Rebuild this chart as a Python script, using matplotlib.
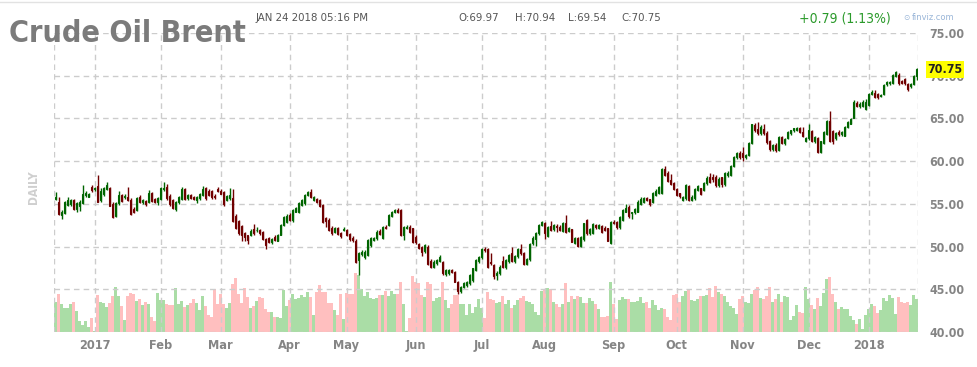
import matplotlib
matplotlib.use("Agg")
import matplotlib.pyplot as plt
import matplotlib.transforms as mtransforms
from matplotlib import font_manager
from matplotlib.lines import Line2D
import numpy as np

# ---- data: Brent daily candles, Dec 13 2016 .. Jan 24 2018 ----
opens = [
    # Dec 2016
    55.6, 55.25, 53.7, 53.9, 54.9, 55.0, 55.5, 54.4, 54.7, 55.1, 56.0, 55.85, 57.0,
    # Jan 2017
    56.75, 57.1, 55.45, 56.1, 56.75, 56.8, 55.0, 53.6, 55.05, 56.0, 55.8, 55.8,
    55.5, 54.4, 54.3, 55.8, 55.25, 55.3, 55.25, 56.25, 55.6, 55.25,
    # Feb
    55.55, 56.7, 56.95, 55.95, 55.45, 54.4, 55.2, 55.6, 56.75, 55.65,
    56.0, 55.8, 55.5, 55.65, 56.05, 56.8, 56.5, 56.5, 55.9, 56.7,
    # Mar
    56.5, 56.4, 55.5, 55.65, 55.7, 53.6, 53.0, 52.35, 51.55, 51.35, 51.35, 52.1,
    51.9, 51.9, 51.7, 50.9, 50.95, 50.5, 51.15, 50.7, 51.36, 52.5, 52.9,
    # Apr
    53.7, 53.1, 54.1, 54.1, 54.87, 55.06, 56.04, 56.43, 55.45, 55.57,
    55.45, 54.87, 53.31, 53.11, 52.22, 51.75, 52.14, 51.55, 51.94,
    # May
    51.94, 51.44, 51.05, 50.66, 48.43, 49.1, 48.82, 49.02, 50.19, 50.77, 50.97, 51.83,
    51.05, 52.33, 52.53, 53.62, 54.09, 54.28, 54.28, 51.36, 52.14, 52.33, 52.14,
    # Jun
    51.16, 50.27, 50.0, 49.49, 50.0, 48.31, 47.65, 48.04, 48.31, 48.16, 46.75,
    46.87, 47.26, 46.99, 45.9, 44.8, 45.31, 45.5, 45.7, 46.09, 47.26, 48.31,
    # Jul
    48.83, 49.72, 49.7, 48.2, 47.85, 46.7, 46.87, 48.3, 47.6, 48.3, 49.2,
    48.3, 48.9, 49.7, 49.3, 48.0, 48.5, 50.4, 50.85, 51.55, 52.55,
    # Aug
    52.73, 51.25, 52.4, 52.0, 52.4, 52.34, 51.87, 52.8, 51.87, 52.0, 50.46, 50.97,
    50.1, 50.85, 53.1, 51.55, 51.63, 52.53, 52.14, 52.4, 52.14, 52.14, 50.38,
    # Sep
    52.92, 52.92, 52.26, 53.1, 54.1, 54.6, 53.9, 54.0, 54.1, 55.0, 55.26,
    55.65, 55.53, 55.26, 56.04, 56.31, 56.31, 59.05, 58.66, 57.8, 57.41,
    # Oct
    56.7, 56.24, 55.45, 55.65, 57.1, 55.45, 55.65, 56.6, 56.8, 56.6, 57.4,
    58.1, 58.2, 58.2, 57.2, 58.1, 57.3, 58.4, 58.4, 59.4, 60.5, 60.9,
    # Nov
    61.0, 60.5, 60.7, 62.1, 64.2, 63.8, 63.3, 63.8, 63.3, 62.3, 61.4,
    61.9, 61.3, 62.8, 62.1, 62.7, 63.3, 63.6, 63.7, 63.85, 63.45, 62.4,
    # Dec
    62.7, 63.55, 62.3, 62.7, 61.1, 62.1, 63.2, 64.7, 63.5, 62.7,
    63.45, 63.2, 63.0, 64.0, 64.4, 65.1, 66.84, 66.4, 66.4, 66.1,
    # Jan 2018
    66.6, 67.9, 68.0, 67.9, 67.6, 67.9, 69.0, 69.1, 69.1, 70.0,
    70.1, 69.4, 69.6, 69.0, 68.8, 69.0, 69.97,
]
highs = [
    56.4, 55.8, 54.3, 55.3, 55.8, 55.6, 55.6, 55.2, 55.4, 57.2, 56.5, 56.3, 57.2,
    57.0, 58.4, 56.8, 57.0, 57.6, 57.0, 55.2, 55.2, 56.5, 56.2, 56.1, 57.0,
    55.7, 54.6, 55.8, 56.0, 55.6, 55.5, 56.6, 56.4, 55.7, 55.8,
    57.0, 57.6, 57.3, 56.1, 55.6, 55.3, 55.9, 56.95, 56.9, 56.2,
    56.2, 55.9, 55.9, 56.3, 57.1, 57.0, 56.7, 56.6, 56.1, 57.0,
    56.7, 56.5, 56.0, 56.8, 56.7, 53.8, 53.1, 52.5, 51.7, 51.2, 52.0, 52.7,
    52.3, 52.0, 51.8, 51.0, 51.1, 51.0, 51.3, 51.5, 52.6, 53.6, 53.8,
    53.9, 54.4, 54.6, 55.2, 55.6, 56.1, 56.5, 56.74, 55.95, 55.7,
    55.6, 55.0, 53.5, 53.3, 52.4, 52.3, 52.3, 51.7, 52.3,
    52.1, 51.6, 51.2, 50.9, 49.4, 49.6, 49.6, 50.9, 51.1, 51.1, 51.9, 52.0,
    52.4, 52.5, 53.8, 54.2, 54.4, 54.5, 54.4, 52.4, 52.5, 52.5, 52.2,
    51.3, 50.4, 50.1, 50.3, 50.2, 48.5, 48.4, 48.6, 49.0, 48.3, 47.4,
    47.4, 47.4, 47.1, 46.0, 45.4, 45.8, 46.0, 46.8, 47.5, 48.5, 48.9,
    49.8, 49.9, 49.8, 49.2, 48.0, 47.1, 47.8, 48.9, 48.5, 49.1, 49.9,
    49.0, 49.8, 50.3, 49.4, 48.7, 50.4, 51.2, 51.7, 52.6, 53.0,
    52.9, 52.4, 53.0, 52.6, 52.6, 52.5, 52.9, 53.7, 52.3, 52.1, 51.1, 51.1,
    51.2, 52.8, 53.2, 52.2, 52.8, 52.7, 52.7, 52.5, 52.4, 52.2, 53.0,
    53.1, 53.0, 53.6, 54.4, 55.0, 54.9, 54.1, 54.5, 55.4, 55.8, 55.8,
    55.8, 55.6, 56.4, 56.7, 57.1, 59.2, 59.45, 58.9, 58.5, 57.6,
    56.8, 56.3, 55.9, 57.3, 57.2, 56.0, 56.8, 57.2, 56.9, 57.6, 58.3,
    58.6, 58.5, 58.4, 58.2, 58.2, 58.7, 58.8, 59.5, 60.6, 61.1, 61.2,
    61.6, 60.8, 62.2, 64.4, 64.5, 64.55, 64.2, 64.4, 63.5, 62.5, 62.0,
    62.1, 62.9, 63.0, 62.7, 63.5, 63.7, 63.9, 64.0, 63.95, 64.0, 62.8,
    64.3, 63.7, 63.0, 62.8, 62.4, 63.5, 64.8, 65.9, 63.7, 63.4,
    63.6, 63.5, 64.1, 64.7, 65.0, 67.1, 67.0, 66.9, 67.1, 67.3,
    68.0, 68.3, 68.3, 68.0, 67.9, 69.0, 69.4, 69.4, 70.2, 70.5,
    70.3, 69.5, 69.7, 69.1, 69.1, 70.1, 70.94,
]
lows = [
    55.4, 53.7, 53.2, 53.8, 54.8, 54.8, 54.3, 54.1, 54.15, 55.0, 55.8, 55.8, 56.4,
    56.5, 55.2, 55.2, 55.9, 56.6, 54.7, 53.4, 53.5, 54.9, 55.2, 55.6, 55.3,
    53.7, 53.9, 54.2, 55.1, 55.0, 54.8, 55.1, 55.2, 55.1, 54.9,
    55.4, 56.5, 55.5, 54.8, 54.4, 54.2, 55.0, 55.5, 55.4, 55.5,
    55.6, 55.4, 55.1, 55.5, 55.9, 55.5, 55.9, 55.6, 55.6, 56.4,
    56.1, 54.8, 55.3, 55.5, 52.9, 52.0, 51.4, 50.6, 50.6, 50.3, 51.2, 51.4,
    51.7, 51.4, 50.8, 49.7, 50.4, 50.3, 50.7, 50.6, 51.3, 52.4, 52.8,
    53.0, 52.9, 54.0, 53.9, 54.7, 54.9, 55.9, 55.7, 55.3, 55.1,
    54.6, 52.8, 52.3, 51.8, 51.4, 51.6, 51.3, 51.0, 51.8,
    51.2, 50.7, 50.5, 48.1, 46.67, 48.9, 48.6, 48.9, 50.0, 50.6, 50.8, 51.3,
    50.9, 52.0, 52.4, 53.5, 53.9, 53.9, 51.2, 50.8, 52.0, 51.6, 50.4,
    50.3, 49.7, 48.9, 49.3, 47.8, 47.5, 47.5, 47.9, 48.2, 46.7, 46.6,
    46.7, 46.9, 45.8, 44.41, 44.6, 45.1, 45.3, 45.5, 45.9, 47.1, 48.1,
    48.6, 49.4, 47.5, 47.9, 46.2, 46.1, 46.7, 47.5, 47.4, 48.1, 48.2,
    48.1, 48.7, 49.0, 47.8, 47.8, 48.3, 50.2, 50.1, 51.3, 52.4,
    50.85, 51.1, 51.8, 51.8, 51.7, 51.8, 51.7, 51.6, 51.7, 50.5, 50.3, 50.0,
    49.9, 50.7, 51.4, 51.4, 51.5, 52.1, 52.0, 51.6, 51.8, 50.6, 50.3,
    52.6, 52.1, 52.1, 53.0, 54.0, 53.4, 53.2, 53.8, 54.0, 54.9, 55.1,
    55.3, 54.8, 55.1, 55.9, 56.2, 56.2, 58.3, 57.6, 57.2, 56.6,
    55.9, 55.7, 55.3, 55.5, 55.3, 55.3, 55.5, 56.5, 56.0, 56.5, 57.2,
    57.4, 57.6, 57.0, 57.0, 57.0, 57.1, 58.2, 58.3, 59.3, 60.3, 60.3,
    60.0, 60.3, 60.6, 62.0, 63.4, 63.1, 63.1, 63.1, 62.0, 61.2, 61.2,
    61.1, 61.2, 62.0, 61.9, 62.6, 63.1, 63.4, 63.5, 63.3, 62.8, 62.2,
    62.5, 62.2, 62.1, 61.0, 61.0, 62.0, 63.1, 62.2, 62.0, 62.5,
    63.0, 63.0, 62.9, 63.9, 64.3, 65.0, 66.3, 66.2, 66.3, 66.0,
    66.5, 67.7, 67.4, 67.3, 67.5, 67.8, 68.8, 68.9, 69.0, 69.8,
    68.9, 69.0, 68.9, 68.2, 68.6, 68.9, 69.54,
]
closes = [
    55.75, 53.8, 54.0, 55.2, 55.45, 55.5, 54.4, 55.05, 55.25, 56.1, 56.25, 56.2, 56.6,
    56.8, 55.25, 56.5, 56.9, 57.2, 54.8, 53.5, 55.05, 56.0, 55.35, 55.95, 55.4,
    53.8, 54.0, 55.65, 55.25, 55.5, 54.95, 56.25, 55.35, 55.25, 55.65,
    56.8, 56.9, 55.65, 54.95, 54.55, 55.2, 55.75, 56.75, 55.6, 56.05,
    55.7, 55.6, 55.8, 56.1, 56.75, 55.65, 56.05, 55.75, 55.75, 56.5,
    56.2, 54.95, 55.9, 56.05, 53.0, 52.15, 51.55, 51.3, 51.15, 50.8, 51.8, 51.55,
    51.95, 51.55, 50.9, 50.2, 50.5, 50.9, 50.8, 51.36, 52.53, 53.5, 53.62,
    53.1, 54.28, 54.48, 55.06, 55.45, 56.04, 56.35, 55.84, 55.84, 55.26,
    54.79, 52.92, 53.0, 51.94, 51.55, 52.14, 51.44, 51.28, 52.06,
    51.36, 50.89, 50.73, 48.24, 49.21, 49.41, 49.41, 50.77, 50.97, 50.97, 51.75, 51.44,
    52.33, 52.14, 53.7, 54.09, 54.28, 54.09, 51.36, 52.33, 52.33, 51.75, 50.58,
    50.5, 49.88, 49.41, 50.19, 47.92, 47.65, 48.24, 48.43, 48.82, 46.87, 47.26,
    47.26, 47.06, 45.9, 44.8, 45.31, 45.7, 45.9, 46.67, 47.45, 48.43, 48.82,
    49.68, 49.6, 47.65, 48.05, 46.56, 46.95, 47.65, 47.65, 48.43, 49.0, 48.3,
    48.9, 49.7, 49.2, 47.97, 48.6, 50.3, 50.97, 51.55, 52.53, 52.9,
    51.63, 52.34, 51.95, 52.5, 52.25, 51.95, 52.8, 51.75, 52.14, 50.58, 50.97, 50.1,
    51.09, 52.73, 51.55, 52.03, 52.65, 52.26, 52.53, 51.75, 51.95, 50.7, 52.92,
    52.73, 52.26, 53.5, 54.3, 54.48, 53.58, 54.0, 54.37, 55.26, 55.53, 55.65,
    55.45, 54.99, 56.31, 56.55, 56.94, 59.05, 58.38, 57.72, 57.33, 56.7,
    56.04, 55.93, 55.8, 57.2, 55.5, 55.85, 56.7, 57.1, 56.16, 57.4, 58.0,
    57.6, 57.9, 57.2, 57.9, 57.3, 58.6, 58.6, 59.4, 60.5, 60.9, 60.45,
    60.45, 60.7, 62.1, 64.35, 63.6, 63.3, 63.95, 63.3, 62.2, 61.4, 61.9,
    61.3, 62.8, 62.1, 62.6, 63.4, 63.65, 63.85, 63.9, 63.45, 62.95, 62.7,
    63.6, 62.3, 62.85, 61.1, 62.3, 63.45, 64.7, 62.3, 62.3, 63.3,
    63.2, 63.4, 64.0, 64.6, 64.9, 66.96, 66.4, 66.7, 66.96, 66.96,
    67.9, 68.1, 67.55, 67.5, 67.8, 68.9, 69.3, 69.3, 70.1, 70.4,
    69.1, 69.2, 69.2, 68.5, 69.0, 70.0, 70.75,
]
volumes = [
    30, 38, 28, 24, 24, 28, 30, 21, 11, 7, 11, 5, 14,
    1, 37, 30, 29, 25, 29, 36, 45, 36, 26, 12, 36, 39, 38, 31, 33, 27, 30, 28, 15, 11, 39,
    32, 32, 28, 27, 27, 44, 28, 31, 25, 27, 29, 33, 29, 22, 36, 26, 17, 15, 43, 28,
    38, 28, 24, 29, 48, 54, 38, 29, 44, 35, 24, 26, 31, 35, 34, 23, 20, 20, 15, 15, 14, 42, 26,
    32, 38, 33, 34, 37, 35, 40, 35, 17, 40, 47, 40, 40, 29, 29, 22, 17, 38, 13,
    39, 38, 38, 59, 57, 43, 36, 40, 34, 33, 34, 37, 37, 41, 36, 41, 38, 38, 50, 28, 1, 14, 56,
    50, 49, 37, 35, 50, 48, 31, 34, 35, 50, 32, 24, 28, 37, 37, 28, 28, 17, 28, 19, 25, 33,
    24, 14, 40, 33, 32, 29, 30, 36, 28, 32, 24, 27, 32, 34, 36, 31, 30, 28, 20, 17, 41,
    42, 44, 43, 30, 28, 25, 28, 49, 30, 36, 33, 36, 35, 29, 29, 34, 31, 28, 23, 15, 15, 16, 50,
    28, 13, 32, 35, 33, 33, 30, 30, 31, 35, 29, 30, 24, 32, 27, 22, 24, 23, 15, 12, 37,
    38, 30, 36, 41, 43, 32, 31, 33, 36, 36, 37, 44, 35, 46, 40, 38, 36, 30, 26, 24, 18, 33,
    36, 30, 29, 38, 42, 45, 34, 33, 36, 45, 30, 33, 38, 30, 36, 35, 12, 16, 27, 20, 19, 45,
    33, 27, 23, 34, 26, 39, 53, 55, 38, 30, 23, 25, 23, 23, 16, 12, 8, 13, 3, 17,
    23, 28, 26, 19, 22, 34, 31, 37, 34, 18, 35, 30, 29, 30, 27, 37, 33,
]

month_idx = [13, 35, 55, 78, 97, 120, 142, 163, 186, 207, 229, 251, 271]
month_lbl = ['2017', 'Feb', 'Mar', 'Apr', 'May', 'Jun', 'Jul', 'Aug',
             'Sep', 'Oct', 'Nov', 'Dec', '2018']
price_ticks = [40, 45, 50, 55, 60, 65, 70, 75]
last_price = 70.75

n = len(closes)

# fonts: prefer a narrow face (finviz uses Arial Narrow), else shrink Liberation Sans
fonts = font_manager.fontManager.ttflist
names = {f.name for f in fonts}
condensed = [f for f in fonts if f.name == 'DejaVu Sans' and 'condensed' in str(f.stretch)]
if 'Liberation Sans Narrow' in names:
    fam, stretch, sc = 'Liberation Sans Narrow', 'normal', 1.0
elif condensed:
    fam, stretch, sc = 'DejaVu Sans', 'condensed', 0.95
else:
    fam, stretch, sc = 'Liberation Sans', 'normal', 0.86
plt.rcParams['font.family'] = [fam, 'DejaVu Sans']
plt.rcParams['font.stretch'] = stretch

W, H = 977, 367
fig = plt.figure(figsize=(W / 100, H / 100), dpi=100)
fig.patch.set_facecolor('white')

L, R, T, B = 54, 918, 33, 332
ax = fig.add_axes([L / W, 1 - B / H, (R - L) / W, (B - T) / H])
axv = ax.twinx()

x = np.arange(n)
o = np.array(opens)
c = np.array(closes)
up = c >= o

# volume bars (behind)
vcol = np.where(up, '#aadda6', '#ffbfbf')
axv.bar(x, volumes, width=1.0, color=vcol, linewidth=0)
axv.set_ylim(0, B - T)
axv.axis('off')

ax.set_zorder(axv.get_zorder() + 1)
ax.patch.set_visible(False)

# grid
grid_kw = dict(color='#cccccc', lw=1.0, linestyle=(0, (4, 3)), zorder=0.5)
for p in price_ticks:
    ax.axhline(p, **grid_kw)
for m in month_idx:
    ax.axvline(m, **grid_kw)
ax.axvline(-0.5, **grid_kw)
ax.axvline(n - 0.5, **grid_kw)

# candles
edge = np.where(up, '#006400', '#700000')
fill = np.where(up, '#00d000', '#d80000')
ax.vlines(x, lows, highs, colors=edge, lw=1.0, zorder=2)
body = np.where(np.abs(c - o) < 0.05, 0.05, c - o)
ax.bar(x, body, bottom=o, width=0.66, color=fill, edgecolor=edge, linewidth=0.8, zorder=3)

ax.set_xlim(-0.5, n - 0.5)
ax.set_ylim(40, 75)
for s in ax.spines.values():
    s.set_visible(False)

ax.yaxis.tick_right()
ax.set_yticks(price_ticks)
ax.set_yticklabels(['%.2f' % p for p in price_ticks])
ax.tick_params(axis='y', length=0, pad=8, labelsize=9.4 * sc, labelcolor='#858585')
ax.set_xticks(month_idx)
ax.set_xticklabels(month_lbl)
ax.tick_params(axis='x', length=0, pad=5, labelsize=9.6 * sc, labelcolor='#858585')
for t in ax.get_xticklabels() + ax.get_yticklabels():
    t.set_fontweight('bold')

# last price tag (sits over the 70.00 label, as on finviz)
trans = mtransforms.blended_transform_factory(ax.transAxes, ax.transData)
ax.text(1.011, last_price, '%.2f' % last_price, transform=trans, ha='left', va='center',
        fontsize=9.4 * sc, fontweight='bold', color='#222222', zorder=10,
        bbox=dict(boxstyle='square,pad=0.15', facecolor='#ffff00', edgecolor='none'))

# header
def ft(px, py, s, **kw):
    fig.text(px / W, 1 - py / H, s, **kw)

ft(9, 42, 'Crude Oil Brent', fontsize=23 * sc, fontweight='bold', color='#7b7b7b',
   va='baseline')
ft(256, 18, 'JAN 24 2018 05:16 PM', fontsize=8.6 * sc, color='#555555', va='center')
ft(458, 18, 'O:69.97', fontsize=8.6 * sc, color='#555555', va='center')
ft(515, 18, 'H:70.94', fontsize=8.6 * sc, color='#555555', va='center')
ft(568, 18, 'L:69.54', fontsize=8.6 * sc, color='#555555', va='center')
ft(621, 18, 'C:70.75', fontsize=8.6 * sc, color='#555555', va='center')
ft(799, 19, '+0.79 (1.13%)', fontsize=10.5 * sc, color='#2b9a2b', va='center')
ft(903, 18, '\u2299', fontsize=6, color='#9ab6d8', va='center', family='DejaVu Sans')
ft(912, 18, 'finviz.com', fontsize=7 * sc, color='#9ab6d8', va='center')
ft(34, 187, 'DAILY', fontsize=9 * sc, fontweight='bold', color='#cfcfcf', va='center',
   ha='center', rotation=90)

fig.add_artist(Line2D([0, 1], [1 - 2 / H, 1 - 2 / H], transform=fig.transFigure,
                      color='#e2e2e2', lw=1))

fig.savefig('out.png', dpi=100, facecolor='white')
